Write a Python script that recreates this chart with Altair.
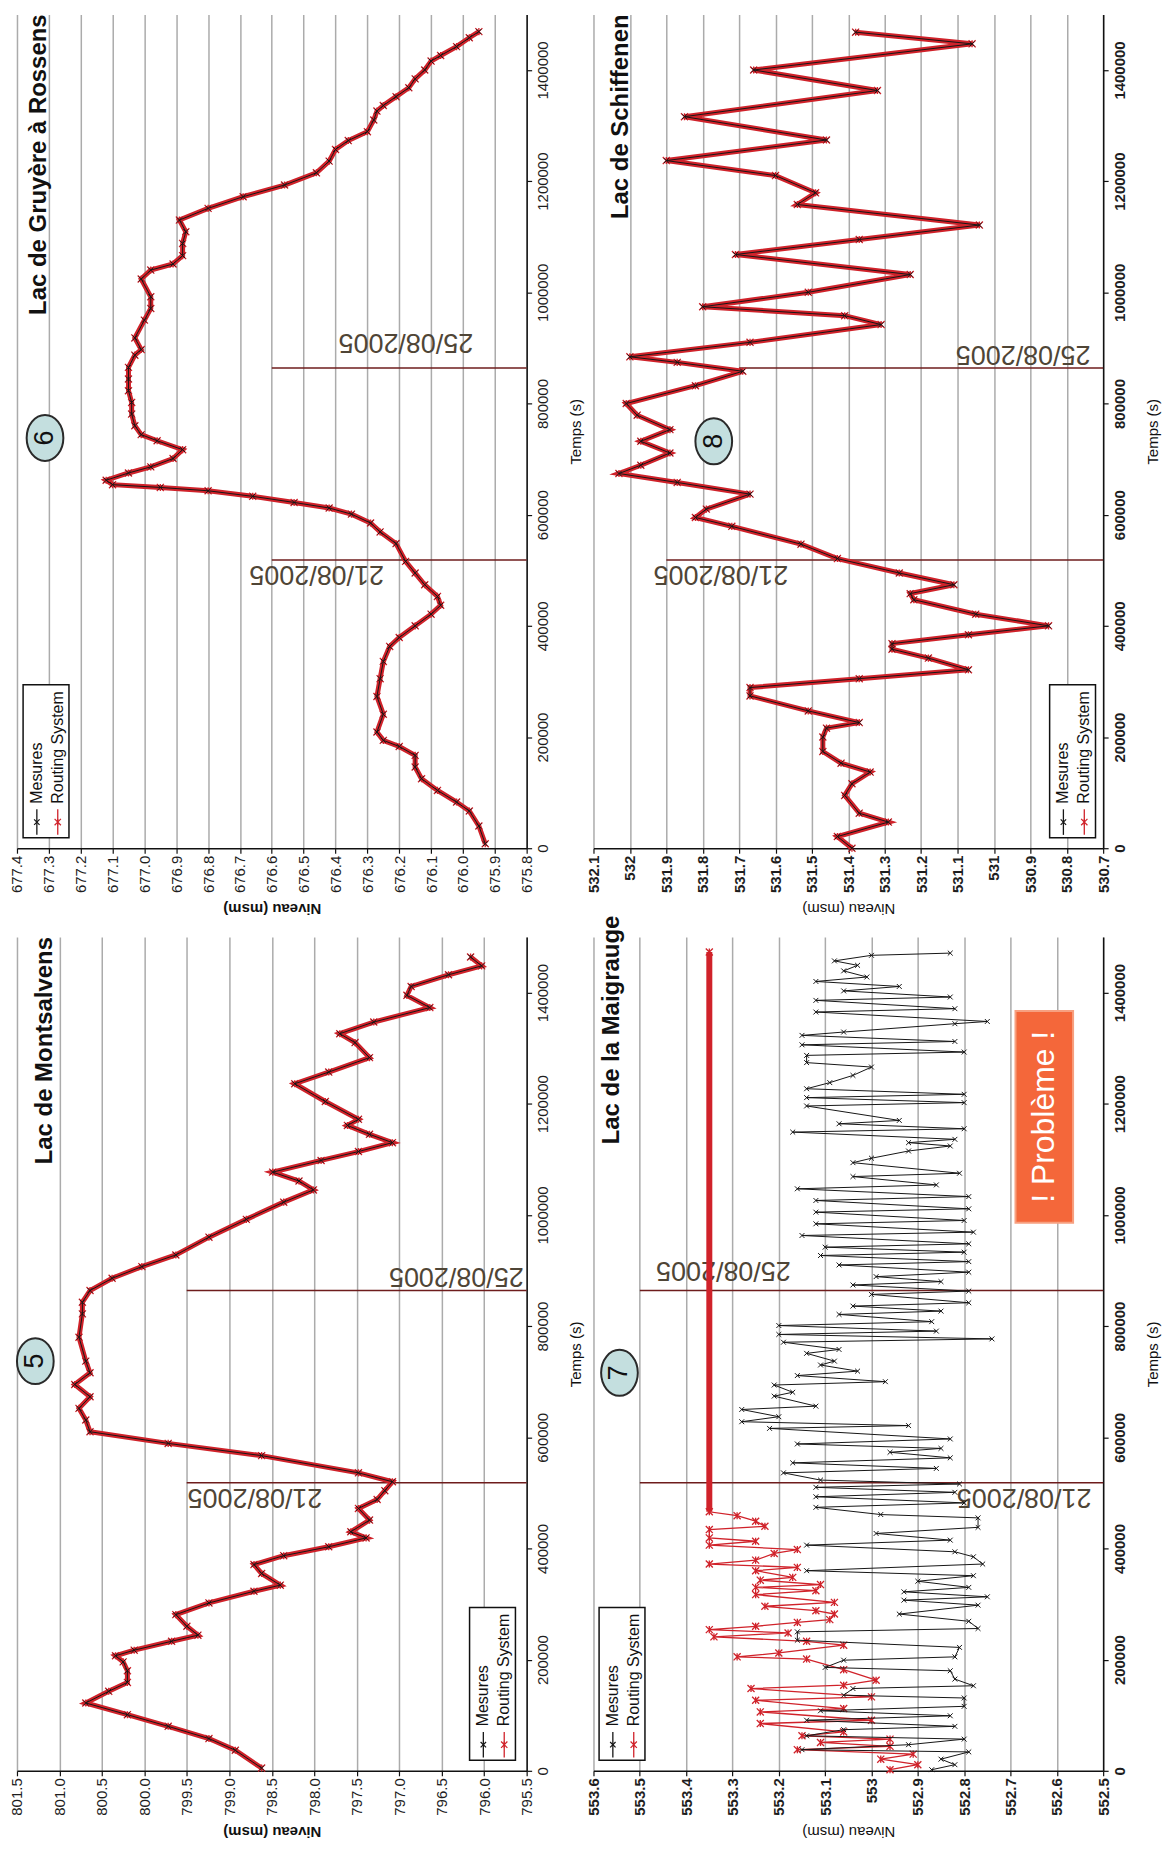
import altair as alt
import pandas as pd

# ---------------- data ----------------
time_ticks = [0, 200000, 400000, 600000, 800000, 1000000, 1200000, 1400000]
date_times = [518400, 864000]
date_labels = ["21/08/2005", "25/08/2005"]
series_names = ["Mesures", "Routing System"]

# Lac de Montsalvens (5) - Mesures and Routing System coincide
montsalvens_t = [5000, 37000, 58000, 80000, 101000, 122000, 143000, 159000, 180000, 196000,
                 207000, 217000, 233000, 244000, 260000, 281000, 302000, 323000, 334000, 355000,
                 371000, 387000, 403000, 419000, 430000, 451000, 472000, 488000, 504000, 520000,
                 536000, 567000, 589000, 610000, 631000, 652000, 673000, 695000, 716000, 737000,
                 780000, 822000, 843000, 864000, 886000, 907000, 928000, 960000, 992000, 1023000,
                 1045000, 1061000, 1077000, 1098000, 1114000, 1130000, 1145000, 1161000, 1172000, 1204000,
                 1236000, 1257000, 1283000, 1310000, 1326000, 1347000, 1373000, 1395000, 1411000, 1432000,
                 1448000, 1464000]
montsalvens_level = [798.62, 798.93, 799.24, 799.72, 800.20, 800.69, 800.42, 800.20, 800.20, 800.25,
                     800.34, 800.12, 799.68, 799.37, 799.50, 799.63, 799.24, 798.71, 798.40, 798.62,
                     798.71, 798.36, 797.83, 797.39, 797.57, 797.35, 797.48, 797.26, 797.17, 797.08,
                     797.48, 798.62, 799.72, 800.64, 800.69, 800.77, 800.64, 800.82, 800.64, 800.69,
                     800.77, 800.73, 800.73, 800.64, 800.38, 800.03, 799.63, 799.24, 798.80, 798.36,
                     798.01, 798.18, 798.49, 797.92, 797.48, 797.08, 797.35, 797.61, 797.48, 797.87,
                     798.23, 797.83, 797.35, 797.52, 797.70, 797.30, 796.64, 796.91, 796.86, 796.42,
                     796.03, 796.16]

# Lac de Gruyère à Rossens (6)
gruyere_t = [8000, 40000, 67000, 83000, 104000, 125000, 146000, 167000, 183000, 194000,
             209000, 241000, 273000, 305000, 336000, 363000, 379000, 400000, 421000, 437000,
             453000, 474000, 495000, 516000, 548000, 569000, 585000, 601000, 612000, 622000,
             633000, 643000, 649000, 654000, 662000, 675000, 686000, 701000, 717000, 733000,
             744000, 760000, 781000, 802000, 823000, 844000, 865000, 887000, 897000, 918000,
             950000, 971000, 992000, 1024000, 1040000, 1051000, 1066000, 1088000, 1109000, 1130000,
             1151000, 1172000, 1193000, 1215000, 1236000, 1257000, 1273000, 1289000, 1310000, 1326000,
             1336000, 1352000, 1368000, 1384000, 1400000, 1416000, 1426000, 1442000, 1458000, 1469000]
gruyere_level = [675.93, 675.95, 675.98, 676.02, 676.08, 676.13, 676.15, 676.15, 676.20, 676.25,
                 676.27, 676.25, 676.27, 676.26, 676.25, 676.23, 676.20, 676.15, 676.10, 676.07,
                 676.08, 676.12, 676.15, 676.18, 676.21, 676.26, 676.29, 676.35, 676.42, 676.53,
                 676.66, 676.80, 676.95, 677.10, 677.12, 677.05, 676.98, 676.91, 676.88, 676.96,
                 677.01, 677.03, 677.04, 677.04, 677.05, 677.05, 677.05, 677.03, 677.01, 677.03,
                 677.00, 676.98, 676.98, 677.01, 676.98, 676.91, 676.88, 676.88, 676.87, 676.89,
                 676.80, 676.69, 676.56, 676.46, 676.42, 676.40, 676.36, 676.30, 676.28, 676.27,
                 676.25, 676.21, 676.17, 676.15, 676.12, 676.10, 676.07, 676.02, 675.98, 675.95]

# Lac de Schiffenen (8)
schiffenen_t = [0, 21000, 47000, 63000, 95000, 116000, 137000, 153000, 174000, 200000,
                216000, 226000, 247000, 274000, 289000, 305000, 321000, 342000, 358000, 368000,
                384000, 400000, 421000, 447000, 458000, 474000, 495000, 521000, 547000, 579000,
                595000, 610000, 637000, 658000, 674000, 689000, 711000, 732000, 753000, 779000,
                800000, 832000, 858000, 874000, 884000, 910000, 942000, 958000, 974000, 1000000,
                1032000, 1068000, 1095000, 1121000, 1158000, 1179000, 1210000, 1237000, 1274000, 1316000,
                1363000, 1400000, 1447000, 1468000]
schiffenen_level = [531.39, 531.43, 531.29, 531.37, 531.41, 531.39, 531.34, 531.42, 531.47, 531.47,
                    531.46, 531.37, 531.51, 531.67, 531.67, 531.37, 531.07, 531.18, 531.28, 531.28,
                    531.07, 530.85, 531.05, 531.22, 531.23, 531.11, 531.26, 531.43, 531.53, 531.72,
                    531.82, 531.79, 531.67, 531.87, 532.03, 531.97, 531.89, 531.97, 531.89, 531.98,
                    532.01, 531.82, 531.69, 531.87, 532.00, 531.67, 531.31, 531.41, 531.80, 531.51,
                    531.23, 531.71, 531.37, 531.04, 531.54, 531.49, 531.60, 531.90, 531.46, 531.85,
                    531.32, 531.66, 531.06, 531.38]

# Lac de la Maigrauge (7) - Mesures
maigrauge_mesures_t = [2000, 11000, 21000, 34000, 38000, 47000, 57000, 63000, 74000, 80000,
                       91000, 99000, 108000, 116000, 131000, 136000, 148000, 153000, 165000, 180000,
                       186000, 199000, 205000, 222000, 235000, 250000, 256000, 269000, 282000, 298000,
                       307000, 313000, 322000, 330000, 341000, 351000, 360000, 372000, 385000, 394000,
                       406000, 415000, 427000, 438000, 455000, 461000, 474000, 482000, 493000, 501000,
                       510000, 516000, 523000, 536000, 544000, 554000, 563000, 573000, 580000, 588000,
                       597000, 616000, 621000, 628000, 637000, 650000, 656000, 674000, 681000, 694000,
                       700000, 711000, 719000, 730000, 737000, 751000, 758000, 771000, 777000, 785000,
                       791000, 801000, 808000, 821000, 827000, 836000, 842000, 857000, 863000, 874000,
                       880000, 889000, 897000, 910000, 916000, 927000, 933000, 942000, 948000, 963000,
                       969000, 984000, 990000, 1005000, 1011000, 1026000, 1033000, 1047000, 1054000, 1069000,
                       1075000, 1094000, 1102000, 1115000, 1124000, 1130000, 1136000, 1149000, 1155000, 1164000,
                       1170000, 1196000, 1202000, 1211000, 1217000, 1227000, 1238000, 1251000, 1266000, 1274000,
                       1287000, 1293000, 1306000, 1312000, 1323000, 1329000, 1344000, 1348000, 1365000, 1371000,
                       1386000, 1392000, 1403000, 1411000, 1420000, 1428000, 1439000, 1449000, 1457000, 1467000,
                       1471000]
maigrauge_mesures_level = [552.87, 552.82, 552.85, 552.79, 553.15, 552.92, 552.80, 553.14, 553.06, 552.82,
                           553.14, 552.83, 553.11, 552.80, 552.80, 553.06, 553.04, 552.78, 552.82, 552.83,
                           553.10, 553.06, 552.82, 552.81, 553.16, 553.16, 552.77, 552.79, 552.94, 552.77,
                           552.93, 552.75, 552.93, 552.79, 552.90, 552.78, 553.14, 552.76, 552.78, 552.82,
                           553.14, 552.83, 552.99, 552.77, 552.77, 552.98, 553.12, 552.80, 553.12, 552.82,
                           553.12, 552.81, 553.11, 553.19, 552.86, 553.17, 552.83, 552.96, 552.85, 553.16,
                           552.83, 553.22, 552.92, 553.28, 553.20, 553.28, 553.12, 553.21, 553.17, 553.21,
                           552.97, 553.16, 553.03, 553.11, 553.08, 553.14, 553.07, 553.19, 552.74, 553.20,
                           552.86, 553.20, 552.87, 553.07, 552.85, 553.04, 552.79, 553.00, 552.79, 553.04,
                           552.85, 552.99, 552.79, 553.07, 552.79, 553.11, 552.80, 553.10, 552.79, 553.15,
                           552.78, 553.12, 552.80, 553.12, 552.79, 553.12, 552.79, 553.16, 552.86, 553.04,
                           552.81, 553.04, 553.00, 552.92, 552.83, 552.92, 552.82, 553.17, 552.80, 553.07,
                           552.94, 553.14, 552.80, 553.14, 552.80, 553.14, 553.09, 553.04, 553.00, 553.14,
                           553.14, 552.80, 553.15, 552.82, 553.15, 553.06, 552.82, 552.75, 553.12, 552.82,
                           553.12, 552.83, 553.06, 552.94, 553.12, 553.01, 553.06, 553.03, 553.08, 553.00,
                           552.83]

# Lac de la Maigrauge (7) - Routing System
maigrauge_routing_t = [2000, 11000, 21000, 30000, 38000, 44000, 51000, 57000, 63000, 70000,
                       85000, 91000, 106000, 112000, 127000, 133000, 148000, 154000, 163000, 182000,
                       201000, 205000, 212000, 226000, 233000, 241000, 248000, 254000, 260000, 267000,
                       272000, 282000, 288000, 296000, 303000, 317000, 324000, 330000, 335000, 343000,
                       348000, 360000, 366000, 372000, 379000, 391000, 398000, 406000, 413000, 419000,
                       434000, 440000, 449000, 459000, 466000, 1473000]
maigrauge_routing_level = [552.96, 552.90, 552.98, 552.91, 553.16, 552.96, 553.11, 552.96, 553.15, 553.06,
                           553.24, 553.00, 553.24, 553.06, 553.25, 553.00, 553.26, 553.06, 552.99, 553.06,
                           553.14, 553.29, 553.20, 553.06, 553.14, 553.34, 553.18, 553.35, 553.25, 553.16,
                           553.09, 553.08, 553.12, 553.23, 553.08, 553.25, 553.12, 553.25, 553.11, 553.24,
                           553.17, 553.25, 553.16, 553.35, 553.25, 553.21, 553.16, 553.35, 553.25, 553.35,
                           553.35, 553.23, 553.25, 553.29, 553.35, 553.35]

# ---------------- style / layout ----------------
FONT = "Liberation Sans"
RED = "#d0222a"
BLACK = "#161616"
DATE_LINE = "#6e1c1c"
DATE_TEXT = "#4f4536"
BADGE_FILL = "#c4dfdf"
ORANGE = "#f4673a"
GRID = "#ababab"
X_SHAPE = "M -1 -1 L 1 1 M -1 1 L 1 -1"
STAR_SHAPE = "M -1 -1 L 1 1 M -1 1 L 1 -1 M 0 -1 L 0 1"
ELLIPSE = "M -0.8 0 A 0.8 1 0 1 1 0.8 0 A 0.8 1 0 1 1 -0.8 0 Z"
W, H = 511, 836
T_MAX = 1500000

panels = [
    dict(title="Lac de Gruyère à Rossens", badge="6", lo=675.8, hi=677.4, step=0.1, fmt=".1f",
         blocky=False, title_f=0.044, title_t=1500000, title_align="right",
         badge_f=0.055, badge_t=738000, date_end=[0.5, 0.5],
         date_lab=[(0.588, 493000), (0.763, 910000)], leg_f=0.012, problem=None),
    dict(title="Lac de Schiffenen", badge="8", lo=530.7, hi=532.1, step=0.1, fmt=".1~f",
         blocky=True, title_f=0.055, title_t=1500000, title_align="right",
         badge_f=0.236, badge_t=732000, date_end=[0.143, 0.286],
         date_lab=[(0.25, 493000), (0.843, 889000)], leg_f=0.895, problem=None),
    dict(title="Lac de Montsalvens", badge="5", lo=795.5, hi=801.5, step=0.5, fmt=".1f",
         blocky=False, title_f=0.055, title_t=1500000, title_align="right",
         badge_f=0.036, badge_t=737000, date_end=[0.333, 0.333],
         date_lab=[(0.467, 493000), (0.862, 891000)], leg_f=0.888, problem=None),
    dict(title="Lac de la Maigrauge", badge="7", lo=552.5, hi=553.6, step=0.1, fmt=".1~f",
         blocky=True, title_f=0.037, title_t=1127000, title_align="left",
         badge_f=0.051, badge_t=716000, date_end=[0.091, 0.091],
         date_lab=[(0.845, 492000), (0.255, 901000)], leg_f=0.011,
         problem=dict(f0=0.828, f1=0.941, t0=986000, t1=1367000, text="! Problème !")),
]


def make_panel(cfg, mes_df, rou_df):
    lo, hi = cfg["lo"], cfg["hi"]
    span = hi - lo

    def lv(f):
        return hi - f * span

    xs = alt.Scale(domain=[lo, hi], reverse=True, nice=False, zero=False)
    ys = alt.Scale(domain=[0, T_MAX], nice=False, zero=False)
    n = int(round(span / cfg["step"]))
    vticks = [round(lo + i * cfg["step"], 2) for i in range(n + 1)]
    lab_w = "bold" if cfg["blocky"] else "normal"
    xax = alt.Axis(values=vticks, format=cfg["fmt"], labelAngle=270, labelAlign="right",
                   labelBaseline="middle", labelFont=FONT, labelFontSize=15, labelColor="#1e1e1e",
                   labelFontWeight=lab_w, labelPadding=2, labelOverlap=False, labelFlush=False,
                   grid=True, gridColor=GRID, gridWidth=1.5,
                   domainColor="#111111", domainWidth=1.5, tickColor="#111111", tickSize=5, tickWidth=1.2,
                   title="Niveau (msm)", titleAngle=180, titleBaseline="bottom", titleAlign="center",
                   titleFont=FONT, titleFontSize=15,
                   titleFontWeight="normal" if cfg["blocky"] else "bold",
                   titleColor="#111111", titlePadding=8)
    yax = alt.Axis(orient="right", values=time_ticks, format="d", labelAngle=270, labelAlign="center",
                   labelBaseline="top", labelFont=FONT, labelFontSize=15, labelColor="#1e1e1e",
                   labelFontWeight=lab_w, labelPadding=4, labelOverlap=False, labelFlush=False, grid=False,
                   domainColor="#111111", domainWidth=1.5, tickColor="#111111", tickSize=5, tickWidth=1.2,
                   title="Temps (s)", titleAngle=270, titleBaseline="top", titleAlign="center",
                   titleFont=FONT, titleFontSize=15, titleFontWeight="normal", titleColor="#111111",
                   titlePadding=18)

    def X(field):
        return alt.X(field, type="quantitative", scale=xs, axis=xax)

    def Y(field):
        return alt.Y(field, type="quantitative", scale=ys, axis=yax)

    layers = []
    dd = pd.DataFrame({
        "t": date_times,
        "x1": [lv(f) for f in cfg["date_end"]],
        "x2": [lo, lo],
        "label": date_labels,
        "lx": [lv(f) for f, _ in cfg["date_lab"]],
        "lt": [t for _, t in cfg["date_lab"]],
    })
    layers.append(alt.Chart(dd).mark_rule(color=DATE_LINE, strokeWidth=1.5).encode(
        x=X("x1"), x2="x2:Q", y=Y("t")))
    layers.append(alt.Chart(dd).mark_text(angle=180, fontSize=27, font=FONT, color=DATE_TEXT,
                                          align="center", baseline="middle").encode(
        x=X("lx"), y=Y("lt"), text="label:N"))

    # problem box
    if cfg["problem"]:
        pb = cfg["problem"]
        pdf = pd.DataFrame({"x": [lv(pb["f0"])], "x2": [lv(pb["f1"])], "t": [pb["t0"]], "t2": [pb["t1"]],
                            "xm": [lv((pb["f0"] + pb["f1"]) / 2)], "tm": [(pb["t0"] + pb["t1"]) / 2],
                            "s": [pb["text"]]})
        layers.append(alt.Chart(pdf).mark_rect(fill=ORANGE, stroke="#f7a080", strokeWidth=2).encode(
            x=X("x"), x2="x2:Q", y=Y("t"), y2="t2:Q"))
        layers.append(alt.Chart(pdf).mark_text(angle=270, fontSize=32, font=FONT, color="white",
                                               align="center", baseline="middle").encode(
            x=X("xm"), y=Y("tm"), text="s:N"))

    # series
    layers.append(alt.Chart(rou_df).mark_line(color=RED, strokeWidth=cfg.get("red_w", 5)).encode(
        x=X("level"), y=Y("t"), order=alt.Order("t:Q")))
    if cfg.get("flat_from") is not None:
        layers.append(alt.Chart(rou_df).transform_filter(alt.datum.t >= cfg["flat_from"]).mark_line(
            color=RED, strokeWidth=6).encode(x=X("level"), y=Y("t"), order=alt.Order("t:Q")))
    layers.append(alt.Chart(rou_df).mark_point(shape=STAR_SHAPE, size=50, color=RED, strokeWidth=1.3,
                                               filled=False, opacity=1).encode(x=X("level"), y=Y("t")))
    layers.append(alt.Chart(mes_df).mark_line(color=BLACK, strokeWidth=1).encode(
        x=X("level"), y=Y("t"), order=alt.Order("t:Q")))
    layers.append(alt.Chart(mes_df).mark_point(shape=X_SHAPE, size=24, color=BLACK, strokeWidth=1,
                                               filled=False, opacity=1).encode(x=X("level"), y=Y("t")))

    # title
    tdf = pd.DataFrame({"x": [lv(cfg["title_f"])], "t": [cfg["title_t"]], "s": [cfg["title"]]})
    layers.append(alt.Chart(tdf).mark_text(angle=270, fontSize=24, fontWeight="bold", font=FONT,
                                           color="#111111", align=cfg["title_align"],
                                           baseline="middle").encode(x=X("x"), y=Y("t"), text="s:N"))
    # badge
    bdf = pd.DataFrame({"x": [lv(cfg["badge_f"])], "t": [cfg["badge_t"]], "s": [cfg["badge"]]})
    layers.append(alt.Chart(bdf).mark_point(shape=ELLIPSE, size=2116, filled=True, fill=BADGE_FILL,
                                            stroke="#2a2a2a", strokeWidth=2, opacity=1).encode(
        x=X("x"), y=Y("t")))
    layers.append(alt.Chart(bdf).mark_text(angle=270, fontSize=27, font=FONT, color="#111111",
                                           align="center", baseline="middle").encode(
        x=X("x"), y=Y("t"), text="s:N"))

    # legend
    f0 = cfg["leg_f"]
    box = pd.DataFrame({"x": [lv(f0)], "x2": [lv(f0 + 0.09)], "t": [19000], "t2": [294000]})
    layers.append(alt.Chart(box).mark_rect(fill="white", stroke="#111111", strokeWidth=1.5).encode(
        x=X("x"), x2="x2:Q", y=Y("t"), y2="t2:Q"))
    ldf = pd.DataFrame({"name": series_names, "lvl": [lv(f0 + 0.027), lv(f0 + 0.068)],
                        "c": [BLACK, RED], "ta": [24000, 24000], "tb": [70000, 70000],
                        "tm": [47000, 47000], "tt": [80000, 80000]})
    layers.append(alt.Chart(ldf).mark_rule(strokeWidth=1.3).encode(
        x=X("lvl"), y=Y("ta"), y2="tb:Q", color=alt.Color("c:N", scale=None)))
    layers.append(alt.Chart(ldf.iloc[[0]]).mark_point(shape=X_SHAPE, size=30, color=BLACK, strokeWidth=1.2,
                                                      filled=False, opacity=1).encode(x=X("lvl"), y=Y("tm")))
    layers.append(alt.Chart(ldf.iloc[[1]]).mark_point(shape=STAR_SHAPE, size=40, color=RED, strokeWidth=1.2,
                                                      filled=False, opacity=1).encode(x=X("lvl"), y=Y("tm")))
    layers.append(alt.Chart(ldf).mark_text(angle=270, fontSize=16, font=FONT, color="#111111",
                                           align="left", baseline="middle").encode(
        x=X("lvl"), y=Y("tt"), text="name:N"))

    return alt.layer(*layers).properties(width=W, height=H)


gru = pd.DataFrame({"t": gruyere_t, "level": gruyere_level})
sch = pd.DataFrame({"t": schiffenen_t, "level": schiffenen_level})
mon = pd.DataFrame({"t": montsalvens_t, "level": montsalvens_level})
mai_m = pd.DataFrame({"t": maigrauge_mesures_t, "level": maigrauge_mesures_level})
mai_r = pd.DataFrame({"t": maigrauge_routing_t, "level": maigrauge_routing_level})

panels[3]["red_w"] = 1.3
panels[3]["flat_from"] = 466000

charts = [
    make_panel(panels[0], gru, gru),
    make_panel(panels[1], sch, sch),
    make_panel(panels[2], mon, mon),
    make_panel(panels[3], mai_m, mai_r),
]

chart = alt.concat(*charts, columns=2, spacing={"row": 89, "column": 67}, bounds="flush").properties(
    padding={"left": 2, "top": 4, "right": 2, "bottom": 12},
    background="white",
).configure_view(stroke=None)

chart.save("out.html", embed_options={"renderer": "svg", "actions": False})
